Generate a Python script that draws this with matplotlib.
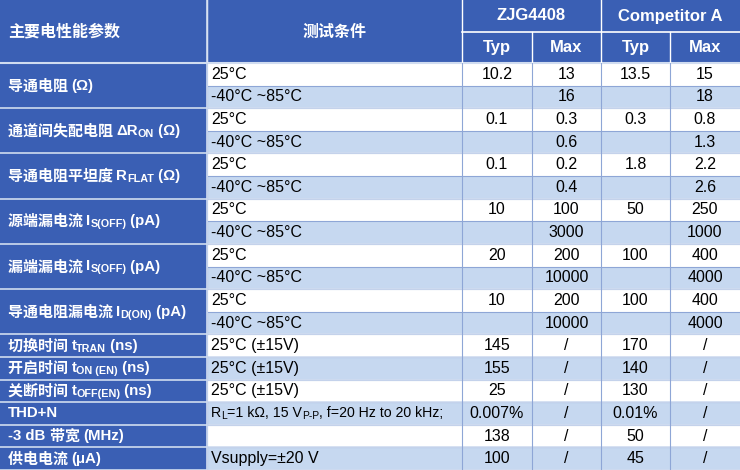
import matplotlib
matplotlib.use("Agg")
import matplotlib.pyplot as plt
from matplotlib.patches import Rectangle

# ---- data ----
params = [
    [("导通电阻 ", 0), ("(Ω)", 0)],
    [("通道间失配电阻 ", 0), ("ΔR", 0), ("ON", 1), (" (Ω)", 0)],
    [("导通电阻平坦度 ", 0), ("R", 0), ("FLAT", 1), (" (Ω)", 0)],
    [("源端漏电流 ", 0), ("I", 0), ("S(OFF)", 1), (" (pA)", 0)],
    [("漏端漏电流 ", 0), ("I", 0), ("S(OFF)", 1), (" (pA)", 0)],
    [("导通电阻漏电流 ", 0), ("I", 0), ("D(ON)", 1), (" (pA)", 0)],
    [("切换时间 ", 0), ("t", 0), ("TRAN", 1), (" (ns)", 0)],
    [("开启时间 ", 0), ("t", 0), ("ON (EN)", 1), (" (ns)", 0)],
    [("关断时间 ", 0), ("t", 0), ("OFF(EN)", 1), (" (ns)", 0)],
    [("THD+N", 0)],
    [("-3 dB 带宽 (MHz)", 0)],
    [("供电电流 (μA)", 0)],
]
group_rows = [2, 2, 2, 2, 2, 2, 1, 1, 1, 1, 1, 1]
conditions = [
    [[("25°C", 0)], [("-40°C ~85°C", 0)]],
    [[("25°C", 0)], [("-40°C ~85°C", 0)]],
    [[("25°C", 0)], [("-40°C ~85°C", 0)]],
    [[("25°C", 0)], [("-40°C ~85°C", 0)]],
    [[("25°C", 0)], [("-40°C ~85°C", 0)]],
    [[("25°C", 0)], [("-40°C ~85°C", 0)]],
    [[("25°C (±15V)", 0)]],
    [[("25°C (±15V)", 0)]],
    [[("25°C (±15V)", 0)]],
    [[("R", 0), ("L", 1), ("=1 kΩ, 15 V", 0), ("P-P", 1), (", f=20 Hz to 20 kHz;", 0)]],
    [[("", 0)]],
    [[("Vsupply=±20 V", 0)]],
]
zjg_typ = ["10.2", "", "0.1", "", "0.1", "", "10", "", "20", "", "10", "", "145", "155", "25", "0.007%", "138", "100"]
zjg_max = ["13", "16", "0.3", "0.6", "0.2", "0.4", "100", "3000", "200", "10000", "200", "10000", "/", "/", "/", "/", "/", "/"]
cmp_typ = ["13.5", "", "0.3", "", "1.8", "", "50", "", "100", "", "100", "", "170", "140", "130", "0.01%", "50", "45"]
cmp_max = ["15", "18", "0.8", "1.3", "2.2", "2.6", "250", "1000", "400", "4000", "400", "4000", "/", "/", "/", "/", "/", "/"]
header_param = "主要电性能参数"
header_cond = "测试条件"
header_groups = ["ZJG4408", "Competitor A"]
header_sub = ["Typ", "Max", "Typ", "Max"]

# ---- layout ----
W, H = 740, 470
xs = [0, 207, 462, 532, 601, 670, 740]
h0, h1 = 32, 63
n = sum(group_rows)
rh = (H - h1) / n
BLUE = "#3a5fb4"
LIGHT = "#c6d8f0"
WHITE = "#ffffff"
FAM = ["Liberation Sans Narrow", "Liberation Sans", "Noto Sans CJK SC", "DejaVu Sans"]
CJK = ["Noto Sans CJK SC", "DejaVu Sans"]
FS = 11.5

fig = plt.figure(figsize=(7.4, 4.7), dpi=100)
ax = fig.add_axes([0, 0, 1, 1])
ax.set_xlim(0, W); ax.set_ylim(H, 0); ax.axis("off")
fig.canvas.draw()
r = fig.canvas.get_renderer()

def rect(x0, y0, x1, y1, c):
    ax.add_patch(Rectangle((x0, y0), x1 - x0, y1 - y0, facecolor=c, edgecolor="none"))

def is_cjk(s):
    return any(ord(ch) > 0x2E80 for ch in s)

def segs(x, y, parts, color, bold=False, fs=FS):
    for txt, sub in parts:
        if not txt:
            continue
        pieces = []
        cur = ""; curc = None
        for ch in txt:
            c = is_cjk(ch)
            if curc is None or c == curc or ch == " ":
                cur += ch; curc = c if curc is None else curc
            else:
                pieces.append((cur, curc)); cur = ch; curc = c
        pieces.append((cur, curc))
        for p, c in pieces:
            size = fs * (0.72 if sub else 1.0)
            t = ax.text(x, y + (3 if sub else 0), p, fontsize=size, color=color,
                        family=CJK if c else FAM,
                        fontweight="bold" if (bold or c) else "normal",
                        va="center", ha="left")
            bb = t.get_window_extent(renderer=r)
            x += bb.width

# header
rect(0, 0, W, h1, BLUE)
ax.text(8, h1 / 2, header_param, fontsize=11.5, color="white", family=CJK, fontweight="bold", va="center")
ax.text((xs[1] + xs[2]) / 2, h1 / 2, header_cond, fontsize=11.5, color="white", family=CJK, fontweight="bold", va="center", ha="center")
for i, g in enumerate(header_groups):
    ax.text((xs[2 + 2 * i] + xs[4 + 2 * i]) / 2, h0 / 2, g, fontsize=12, color="white", family=FAM, fontweight="bold", va="center", ha="center")
for i, s in enumerate(header_sub):
    ax.text((xs[2 + i] + xs[3 + i]) / 2, (h0 + h1) / 2, s, fontsize=12, color="white", family=FAM, fontweight="bold", va="center", ha="center")

# body
row = 0
cols = [zjg_typ, zjg_max, cmp_typ, cmp_max]
for gi, k in enumerate(group_rows):
    y0 = h1 + row * rh
    rect(0, y0, xs[1], y0 + k * rh, BLUE)
    segs(8, y0 + k * rh / 2, params[gi], "white", bold=True, fs=10.8)
    for j in range(k):
        yy = y0 + j * rh
        if k == 2:
            c = WHITE if j == 0 else LIGHT
        else:
            c = WHITE if (row + j - 12) % 2 == 0 else LIGHT
        rect(xs[1], yy, W, yy + rh, c)
        cond_fs = 10.2 if gi == 9 else FS
        segs(xs[1] + 4, yy + rh / 2, conditions[gi][j], "black", fs=cond_fs)
        for ci, col in enumerate(cols):
            ax.text((xs[2 + ci] + xs[3 + ci]) / 2, yy + rh / 2, col[row + j], fontsize=FS,
                    family=FAM, va="center", ha="center", color="black")
        ax.plot([xs[1], W], [yy + rh, yy + rh], color="#8ea6d6", lw=0.8)
    ax.plot([0, W], [y0 + k * rh, y0 + k * rh], color="#d0dcf0", lw=1.2)
    row += k

# grid lines
ax.plot([0, W], [h1, h1], color="#d0dcf0", lw=1.5)
ax.plot([xs[2], W], [h0, h0], color="white", lw=1.2)
for x in xs[1:-1]:
    ytop = 0 if x in (xs[1], xs[2], xs[4]) else h0
    ax.plot([x, x], [ytop, h1], color="white", lw=1.0)
    ax.plot([x, x], [h1, H], color="#8ea6d6", lw=0.8)
ax.plot([xs[1], xs[1]], [0, H], color="#d0dcf0", lw=1.2)

fig.savefig("out.png", dpi=100)
